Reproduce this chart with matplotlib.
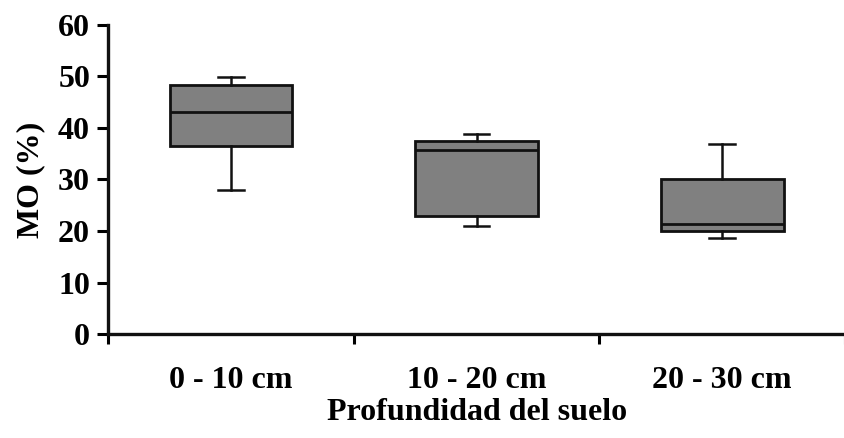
import matplotlib
matplotlib.use("Agg")
import matplotlib.pyplot as plt

# Soil organic matter (MO %) by depth
depths = ["0 - 10 cm", "10 - 20 cm", "20 - 30 cm"]
whisker_low = [28.0, 21.0, 18.7]
q1 = [36.5, 23.0, 20.0]
median = [43.1, 35.8, 21.3]
q3 = [48.4, 37.4, 30.1]
whisker_high = [49.9, 38.8, 36.9]
y_ticks = [0, 10, 20, 30, 40, 50, 60]

INK = "#111111"
BOX = "#808080"
FS = 23

plt.rcParams["font.family"] = ["Liberation Serif", "DejaVu Serif"]
plt.rcParams["font.weight"] = "bold"

fig = plt.figure(figsize=(8.45, 4.38), dpi=100)
ax = fig.add_axes([0.128, 0.2374, 0.872, 0.7056])

stats = [
    {"label": d, "whislo": lo, "q1": a, "med": m, "q3": b, "whishi": hi, "fliers": []}
    for d, lo, a, m, b, hi in zip(depths, whisker_low, q1, median, q3, whisker_high)
]
ax.bxp(stats, positions=[1, 2, 3], widths=0.5, capwidths=0.105, patch_artist=True,
       showfliers=False,
       boxprops={"facecolor": BOX, "edgecolor": INK, "linewidth": 2.0},
       medianprops={"color": INK, "linewidth": 2.0},
       whiskerprops={"color": INK, "linewidth": 1.8},
       capprops={"color": INK, "linewidth": 1.8})

ax.set_xlim(0.5, 3.484)
ax.set_ylim(0, 60)
ax.set_yticks(y_ticks)
ax.set_yticklabels([str(v) for v in y_ticks], fontsize=FS, fontweight="bold")

# major ticks mark the boundaries between depths, labels sit at the centres
ax.set_xticks([0.5, 1.5, 2.5, 3.5])
ax.set_xticklabels([])
ax.set_xticks([1, 2, 3], minor=True)
ax.set_xticklabels(depths, minor=True, fontsize=FS, fontweight="bold")
ax.tick_params(axis="x", which="minor", length=0, pad=23)
ax.tick_params(axis="x", which="major", length=7, width=2.2, direction="out")
ax.tick_params(axis="y", length=8, width=2.2, direction="out", pad=5)

for side in ["top", "right"]:
    ax.spines[side].set_visible(False)
for side in ["left", "bottom"]:
    ax.spines[side].set_linewidth(2.4)
    ax.spines[side].set_color(INK)

ax.set_ylabel("MO (%)", fontsize=FS, fontweight="bold", labelpad=9)
ax.set_xlabel("Profundidad del suelo", fontsize=FS, fontweight="bold", labelpad=2)

fig.savefig("out.png", dpi=100, facecolor="white")
